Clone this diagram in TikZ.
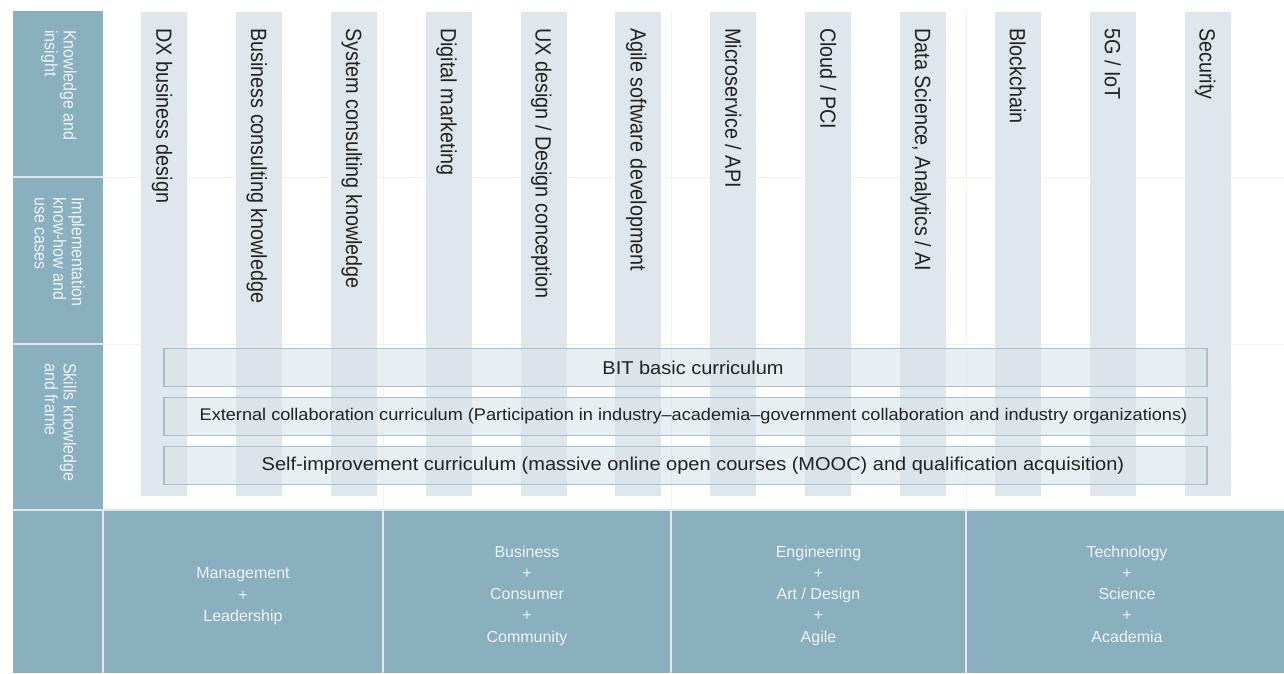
\documentclass[tikz,border=0pt]{standalone}
\usepackage{fontspec}
\setmainfont{Liberation Sans}
\usepackage{graphicx}
\definecolor{band}{HTML}{8AAFBF}
\definecolor{strip}{HTML}{DFE7EC}
\definecolor{boxfill}{HTML}{D6E2E8}
\definecolor{boxline}{HTML}{A2C2CF}
\definecolor{gridc}{HTML}{F3F3EA}
\definecolor{sepc}{HTML}{DCE8EC}
\definecolor{ink}{HTML}{222222}
\definecolor{paleink}{HTML}{EEF3F5}
\newcommand\mysqz[1]{\scalebox{0.9}[1]{#1}}
\newcommand\myflat[1]{\scalebox{1}[0.93]{#1}}
\tikzset{
  stripbox/.style={fill=strip, draw=none, minimum width=46pt, minimum height=484pt, inner sep=0pt, anchor=north west},
  striptext/.style={rotate=-90, anchor=base west, inner sep=0pt, text=ink, font=\fontsize{22}{26}\selectfont},
  sidetext/.style={rotate=-90, anchor=west, inner sep=0pt, text=paleink, font=\fontsize{17.8}{18.6}\selectfont},
  currbox/.style={fill=boxfill, fill opacity=0.55, draw=boxline, line width=1.2pt, minimum width=1043pt, minimum height=38pt, inner sep=0pt},
  currtext/.style={text=ink, inner sep=0pt, font=\fontsize{20}{24}\selectfont},
  bandtext/.style={text=paleink, align=center, inner sep=0pt, anchor=north, font=\fontsize{16}{21.3}\selectfont},
  gridline/.style={draw=gridc, line width=1pt},
  sepline/.style={draw=sepc, line width=1.2pt}
}
\begin{document}
\begin{tikzpicture}[x=1pt,y=-1pt]
\useasboundingbox (0,0) rectangle (1284,673);
\fill[white] (0,0) rectangle (1284,673);
% faint grid
\draw[gridline] (103,177) -- (1284,177);
\draw[gridline] (103,344) -- (1284,344);
\foreach \gx in {383,671,966} \draw[gridline] (\gx,11) -- (\gx,510);
% left column
\fill[band] (13,11) rectangle (103,510);
\draw[sepline] (13,177) -- (103,177);
\draw[sepline] (13,344) -- (103,344);
\node[sidetext] (l1) at (58,30) {\mysqz{\begin{tabular}{@{}l@{}}Knowledge and\\insight\end{tabular}}};
\node[sidetext] (l2) at (57,197) {\mysqz{\begin{tabular}{@{}l@{}}Implementation\\know-how and\\use cases\end{tabular}}};
\node[sidetext] (l3) at (58,363) {\mysqz{\begin{tabular}{@{}l@{}}Skills knowledge\\and frame\end{tabular}}};
% bottom band
\fill[band] (13,510) rectangle (1284,673);
\draw[sepline] (13,510) -- (1284,510);
\foreach \bx in {103,383,671,966} \draw[sepline] (\bx,510) -- (\bx,673);
\node[bandtext] (b1) at (243,567.5) {Management\\+\\Leadership};
\node[bandtext] (b2) at (527,545.2) {Business\\+\\Consumer\\+\\Community};
\node[bandtext] (b3) at (818.5,545.2) {Engineering\\+\\Art / Design\\+\\Agile};
\node[bandtext] (b4) at (1127,545.2) {Technology\\+\\Science\\+\\Academia};
% strips
\foreach \t [count=\i from 0] in {DX business design, Business consulting knowledge, System consulting knowledge, Digital marketing, UX design / Design conception, Agile software development, Microservice / API, Cloud / PCI, {Data Science, Analytics / AI}, Blockchain, 5G / IoT, Security}{
  \node[stripbox] (s\i) at (141+94.85*\i,12) {};
  \node[striptext] (c\i) at ([xshift=-7.9pt,yshift=-16pt]s\i.north) {\mysqz{\t}};
}
% curriculum boxes
\node[currbox] (bit) at (685.5,367.5) {};
\node[currbox] (ext) at (685.5,416.5) {};
\node[currbox] (self) at (685.5,465.5) {};
\node[currtext] (tbit) at ([xshift=7.5pt]bit.center) {\myflat{BIT basic curriculum}};
\node[currtext, font=\fontsize{18.15}{22}\selectfont] (text) at ([xshift=8pt]ext.center) {\myflat{External collaboration curriculum (Participation in industry–academia–government collaboration and industry organizations)}};
\node[currtext] (tself) at ([xshift=7.5pt]self.center) {\myflat{Self-improvement curriculum (massive online open courses (MOOC) and qualification acquisition)}};
\end{tikzpicture}
\end{document}
